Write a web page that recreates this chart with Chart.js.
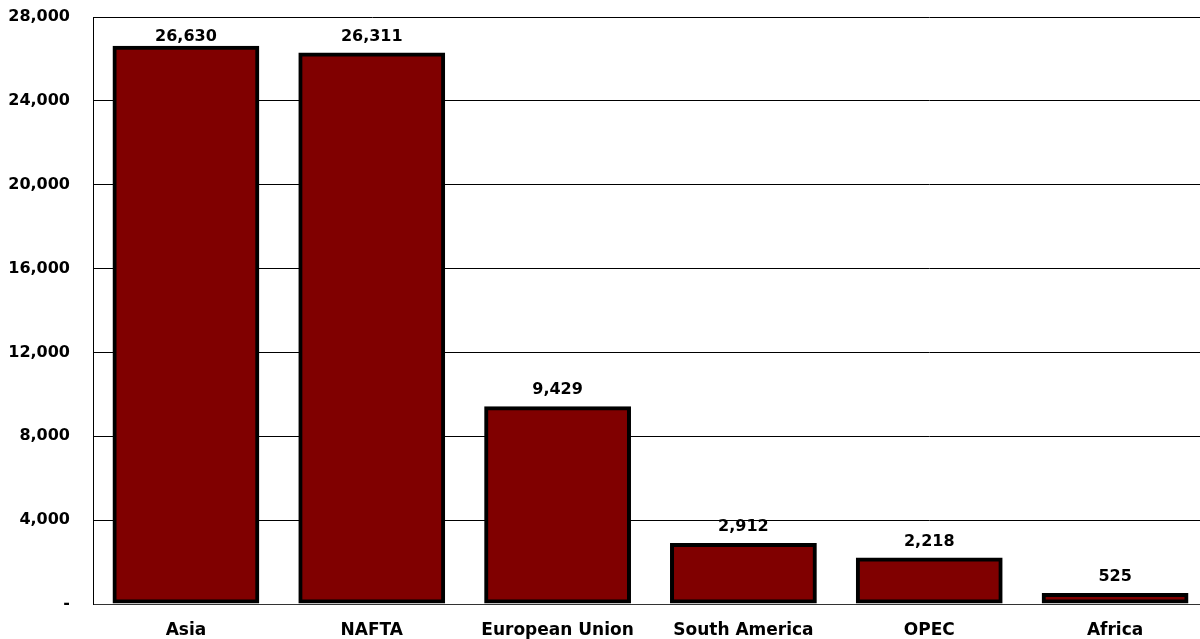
<!DOCTYPE html>
<html>
<head>
<meta charset="utf-8">
<script src="https://cdn.jsdelivr.net/npm/chart.js@4"></script>
<style>
  html, body { margin: 0; padding: 0; background: #fff; overflow: hidden; }
  #frame { width: 1200px; height: 639px; overflow: hidden; }
  #wrap { width: 1208px; height: 639px; position: relative; }
</style>
</head>
<body>
<div id="frame"><div id="wrap"><canvas id="regionChart"></canvas></div></div>
<script>
// 지역별 값 (막대)
const regions = ['Asia', 'NAFTA', 'European Union', 'South America', 'OPEC', 'Africa'];
const values = [26630, 26311, 9429, 2912, 2218, 525];
const yTicks = [0, 4000, 8000, 12000, 16000, 20000, 24000, 28000];

const fmt = v => v === 0 ? '-' : v.toLocaleString('en-US');
const FONT = { family: '"DejaVu Sans", Arial, sans-serif', size: 16, weight: 'bold' };

// black backing under each bar so the border has no light seam
const barBacking = {
    id: 'barBacking',
    beforeDatasetsDraw(chart) {
        const ctx = chart.ctx;
        ctx.save();
        ctx.fillStyle = '#000';
        chart.getDatasetMeta(0).data.forEach(bar => {
            const p = bar.getProps(['x', 'y', 'base', 'width']);
            ctx.fillRect(p.x - p.width / 2 + 1, p.y + 1, p.width - 2, p.base - p.y - 2);
        });
        ctx.restore();
    }
};

const valueLabels = {
    id: 'valueLabels',
    afterDatasetsDraw(chart) {
        const ctx = chart.ctx;
        const meta = chart.getDatasetMeta(0);
        ctx.save();
        ctx.font = 'bold 16px "DejaVu Sans", Arial, sans-serif';
        ctx.fillStyle = '#000';
        ctx.textAlign = 'center';
        ctx.textBaseline = 'middle';
        meta.data.forEach((bar, i) => {
            const y = Math.max(bar.y - 16, chart.chartArea.top + 20);
            ctx.fillText(fmt(values[i]), bar.x, y);
        });
        ctx.restore();
    }
};

new Chart(document.getElementById('regionChart'), {
    type: 'bar',
    data: {
        labels: regions,
        datasets: [{
            data: values,
            backgroundColor: '#800000',
            borderColor: '#000',
            borderWidth: 4,
            borderSkipped: false,
            barPercentage: 0.79,
            categoryPercentage: 1
        }]
    },
    options: {
        responsive: true,
        maintainAspectRatio: false,
        animation: false,
        layout: { padding: { top: 17, right: 0, left: 0, bottom: 0 } },
        plugins: { legend: { display: false }, tooltip: { enabled: false } },
        scales: {
            x: {
                grid: { display: false, drawTicks: false },
                border: { color: '#333', width: 1 },
                ticks: { color: '#000', font: { ...FONT, size: 17 }, padding: 16, maxRotation: 0 },
                afterFit: s => { s.height = 35; s.paddingLeft = 0; s.paddingRight = 0; }
            },
            y: {
                min: 0, max: 28000,
                afterBuildTicks: s => { s.ticks = yTicks.map(v => ({ value: v })); },
                grid: { color: '#000', lineWidth: 1, drawTicks: false },
                border: { color: '#000', width: 1 },
                ticks: { color: '#000', font: FONT, padding: 23, callback: v => fmt(v) },
                afterFit: s => { s.width = 93; s.paddingTop = 0; s.paddingBottom = 0; }
            }
        }
    },
    plugins: [barBacking, valueLabels]
});
</script>
</body>
</html>
